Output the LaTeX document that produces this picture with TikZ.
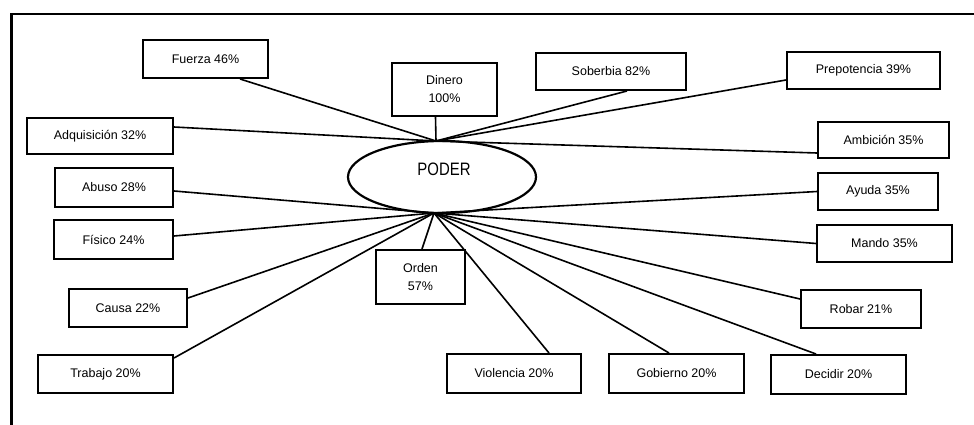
\documentclass[tikz,border=0pt]{standalone}
\usepackage{fontspec}
\usetikzlibrary{shapes.geometric}
\setmainfont{Liberation Sans}
\newfontfamily\poderfont[FakeStretch=0.83]{Liberation Sans}
\begin{document}
\begin{tikzpicture}[x=1pt,y=-1pt,
  box/.style={draw,line width=2pt,rectangle,inner sep=0pt,font=\fontsize{12.5}{18}\selectfont,align=center},
  link/.style={line width=1.6pt},
  frame/.style={line width=2.4pt}]
\useasboundingbox (0,0) rectangle (974,425);
% frame
\coordinate (fTL) at (11.5,14);
\coordinate (fBL) at (11.5,425);
\coordinate (fTR) at (974,14);
\draw[frame] (fBL) -- (fTL) -- (fTR);
% centre
\node[draw,ellipse,line width=2.2pt,minimum width=188pt,minimum height=72pt,inner sep=0pt] (poder) at (442,177) {};
\node[font=\poderfont\fontsize{18}{20}\selectfont] (pt) at (444,169) {PODER};
\coordinate (hubT) at (436,141);
\coordinate (hubB) at (434,213);
% boxes
\node[box,minimum width=125pt,minimum height=38pt] (fuerza) at (205.5,59) {Fuerza 46\%};
\node[box,minimum width=105pt,minimum height=53pt] (dinero) at (444.5,89.5) {Dinero\\100\%};
\node[box,minimum width=150pt,minimum height=37pt] (soberbia) at (611,71.5) {Soberbia 82\%};
\node[box,minimum width=153pt,minimum height=37pt] (prepot) at (863.5,70.5) {Prepotencia 39\%};
\node[box,minimum width=146pt,minimum height=36pt] (adq) at (100,136) {Adquisición 32\%};
\node[box,minimum width=131pt,minimum height=36pt] (ambicion) at (883.5,140) {Ambición 35\%};
\node[box,minimum width=118pt,minimum height=39pt] (abuso) at (114,187.5) {Abuso 28\%};
\node[box,minimum width=120pt,minimum height=37pt] (ayuda) at (878,191.5) {Ayuda 35\%};
\node[box,minimum width=119pt,minimum height=39pt] (fisico) at (113.5,239.5) {Físico 24\%};
\node[box,minimum width=135pt,minimum height=37pt] (mando) at (884.5,243.5) {Mando 35\%};
\node[box,minimum width=89pt,minimum height=54pt] (orden) at (420.5,277) {Orden\\57\%};
\node[box,minimum width=118pt,minimum height=38pt] (causa) at (128,308) {Causa 22\%};
\node[box,minimum width=120pt,minimum height=38pt] (robar) at (861,309) {Robar 21\%};
\node[box,minimum width=135pt,minimum height=38pt] (trabajo) at (105.5,374) {Trabajo 20\%};
\node[box,minimum width=134pt,minimum height=39pt] (violencia) at (514,373.5) {Violencia 20\%};
\node[box,minimum width=135pt,minimum height=39pt] (gobierno) at (676.5,373.5) {Gobierno 20\%};
\node[box,minimum width=135pt,minimum height=39pt] (decidir) at (838.5,374.5) {Decidir 20\%};
% connectors to top hub
\draw[link] ([xshift=34.5pt]fuerza.south) -- (hubT);
\draw[link] ([xshift=-9pt]dinero.south) -- (hubT);
\draw[link] ([xshift=16pt]soberbia.south) -- (hubT);
\draw[link] ([yshift=-9.5pt]prepot.west) -- (hubT);
\draw[link] ([yshift=9pt]adq.east) -- (hubT);
\draw[link] ([yshift=-13pt]ambicion.west) -- (hubT);
% connectors to bottom hub
\draw[link] ([yshift=-3.5pt]abuso.east) -- (hubB);
\draw[link] (ayuda.west) -- (hubB);
\draw[link] ([yshift=3.5pt]fisico.east) -- (hubB);
\draw[link] (mando.west) -- (hubB);
\draw[link] ([xshift=1.5pt]orden.north) -- (hubB);
\draw[link] ([yshift=10pt]causa.east) -- (hubB);
\draw[link] ([yshift=10pt]robar.west) -- (hubB);
\draw[link] ([yshift=-4pt]trabajo.north east) -- (hubB);
\draw[link] ([xshift=35pt]violencia.north) -- (hubB);
\draw[link] ([xshift=-7.5pt]gobierno.north) -- (hubB);
\draw[link] ([xshift=-22.5pt]decidir.north) -- (hubB);
\end{tikzpicture}
\end{document}
